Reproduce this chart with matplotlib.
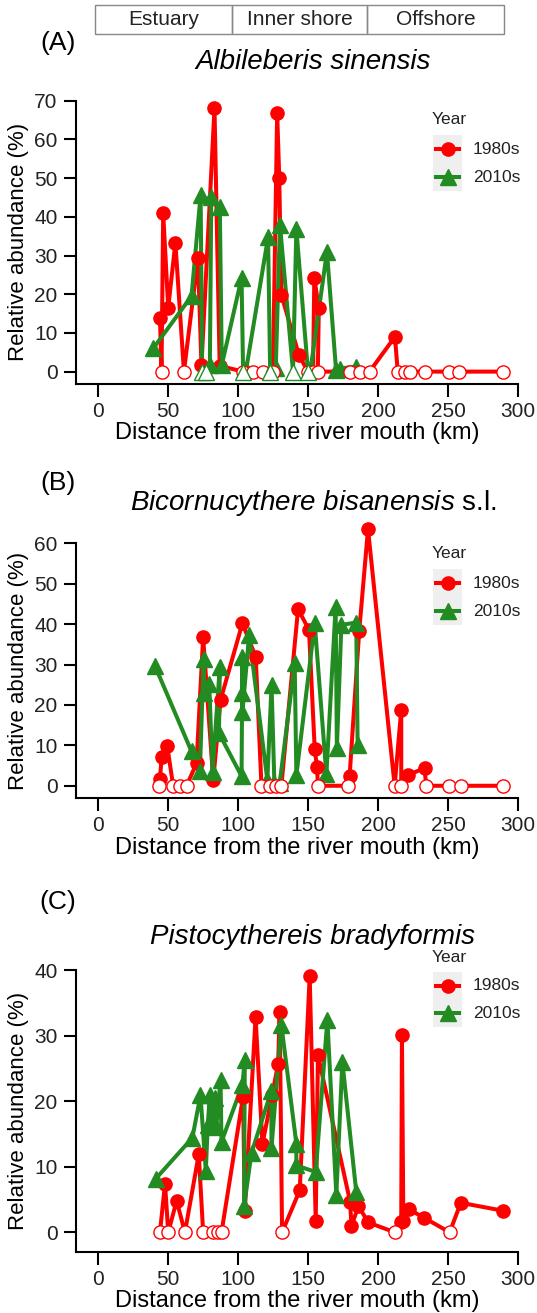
import matplotlib.pyplot as plt
from matplotlib.patches import Rectangle
from matplotlib.lines import Line2D

plt.rcParams['font.family'] = ['Liberation Sans', 'DejaVu Sans']
plt.rcParams['mathtext.fontset'] = 'custom'
plt.rcParams['mathtext.rm'] = 'Liberation Sans'
plt.rcParams['mathtext.it'] = 'Liberation Sans:italic'

RED = '#FF0000'
GREEN = '#228B22'
W, H = 537, 1313

# ---- data (distance km, relative abundance %) ----
zones = ['Estuary', 'Inner shore', 'Offshore']
xticks = [0, 50, 100, 150, 200, 250, 300]

a_red_d = [44.4, 45.5, 46.7, 50.3, 55.4, 61.5, 71.5, 74, 83.3, 87, 103.7, 110.8, 117.9, 125,
           128, 129.5, 131, 143.6, 150, 153.6, 154.5, 157.7, 157, 179.7, 186.8, 193.9, 212,
           214, 218.9, 222.4, 233.1, 250.9, 258, 288.9]
a_red_v = [13.8, 0, 40.9, 16.5, 33.3, 0, 29.3, 1.7, 68, 1.5, 0, 0, 0, 0,
           66.8, 50, 19.8, 4.2, 0, 0, 24.2, 16.4, 0, 0, 0, 0, 9,
           0, 0, 0, 0, 0, 0, 0]
a_grn_d = [39.6, 66.9, 73.4, 74.5, 77.5, 80, 81, 87.1, 88.5, 102.6, 103.7, 106, 121.5, 123,
           127, 130, 139.3, 141.7, 150, 152, 163.5, 170, 172.6, 184.4]
a_grn_v = [6, 19.5, 45.6, 0, 0, 1.7, 45.2, 42.5, 1.7, 24.2, 0, 0.8, 34.7, 0,
           1, 37.9, 0, 36.8, 0, 1, 31, 0.5, 0.8, 1.3]

b_red_d = [44, 44.4, 45.6, 49.6, 53.8, 58.6, 63.4, 70.5, 75.2, 82.4, 87.6, 103.2, 112.7, 116.8,
           122.7, 127.5, 131, 142.9, 150.7, 154.8, 156.4, 157.1, 178.5, 179.7, 186.5, 192.8,
           211.8, 216.5, 216.5, 221.2, 233.1, 234.3, 250.9, 259.3, 288.9]
b_red_v = [0, 1.6, 7.2, 9.8, 0, 0, 0, 5.6, 36.8, 1.4, 21.2, 40.2, 31.9, 0,
           0, 0, 0, 43.7, 38.6, 9, 4.7, 0, 0, 2.5, 38.2, 63.5,
           0, 18.8, 0, 2.6, 4.4, 0, 0, 0, 0]
b_grn_d = [40.8, 66.9, 72.9, 75.5, 76, 79.5, 81.9, 87.1, 86.5, 102.6, 103.2, 103.2, 103.2, 108,
           121, 124, 126, 129.8, 140.5, 141.7, 154.8, 163.1, 169.7, 170.6, 173.8, 184.4, 185.4]
b_grn_v = [29.7, 8.5, 3.7, 31.3, 23, 25.3, 3.5, 29.5, 13, 2.4, 31.9, 22.9, 18.2, 37.3,
           1.4, 24.9, 0.8, 0.6, 30.3, 2.6, 40.2, 2.8, 44.2, 9.3, 39.8, 40.4, 10]

c_red_d = [44.4, 48, 50.3, 56.3, 62.2, 72.1, 75.2, 82.3, 86, 88.3, 103.7, 104.9, 112.6, 117.5,
           124.4, 128.7, 129.8, 131.5, 144.1, 151.2, 155.5, 157.1, 180, 181, 186, 193, 212,
           216.5, 217, 218, 222, 233, 251, 259, 289]
c_red_v = [0, 7.4, 0, 4.8, 0, 11.9, 0, 0, 0, 0, 20.7, 3.2, 32.8, 13.5,
           20.9, 25.7, 33.6, 0, 6.4, 39.1, 1.8, 27, 4.7, 1, 4, 1.5, 0,
           1.5, 30.1, 1.8, 3.5, 2.2, 0, 4.5, 3.3]
c_grn_d = [41.5, 67.5, 73.3, 77.1, 78.5, 80, 81.9, 83.5, 84.5, 87.6, 88.3, 103.2, 104.9, 104.4,
           109.7, 123.9, 123.9, 131, 141.7, 141.7, 155.5, 163.8, 170.2, 174.5, 184.4]
c_grn_v = [8.2, 14.4, 20.9, 9.4, 16.4, 20.9, 16.4, 20.5, 16, 23.2, 13.8, 22.5, 26.3, 4,
           12.1, 21.6, 12.8, 31.6, 13.5, 10.2, 9.2, 32.4, 5.7, 26, 6.2]

fig = plt.figure(figsize=(W / 100, H / 100), dpi=100)


def fx(x):
    return x / W


def fy(y):
    return 1 - y / H


def series(ax, d, v, color, marker, ms):
    ax.plot(d, v, color=color, lw=2.9, zorder=2, clip_on=False)
    fd = [a for a, b in zip(d, v) if b > 0]
    fv = [b for b in v if b > 0]
    ax.plot(fd, fv, ls='none', marker=marker, ms=ms, color=color, mec=color,
            zorder=3, clip_on=False)
    zd = [a for a, b in zip(d, v) if b == 0]
    ax.plot(zd, [0] * len(zd), ls='none', marker=marker, ms=ms, mfc='white', mec=color,
            mew=1.0, zorder=4, clip_on=False)


def legend(ytitle, y1, y2):
    fig.text(fx(432), fy(ytitle), 'Year', fontsize=12.5, color='#222222', va='center')
    for yy, col, mk, lab in [(y1, RED, 'o', '1980s'), (y2, GREEN, '^', '2010s')]:
        fig.add_artist(Rectangle((fx(433), fy(yy + 14)), 29 / W, 28 / H,
                                 transform=fig.transFigure, color='#EFEFEF', lw=0))
        fig.add_artist(Line2D([fx(436), fx(459)], [fy(yy), fy(yy)], color=col, lw=2.9,
                              transform=fig.transFigure))
        fig.add_artist(Line2D([fx(447.5)], [fy(yy)], marker=mk, ms=9.5 if mk == 'o' else 11,
                              color=col, transform=fig.transFigure))
        fig.text(fx(473), fy(yy), lab, fontsize=12.5, color='#222222', va='center')


def panel(top, bottom, ymax, ymin, yticks, red_d, red_v, grn_d, grn_v):
    ax = fig.add_axes([fx(75.7), fy(bottom), (518.3 - 75.7) / W, (bottom - top) / H])
    series(ax, red_d, red_v, RED, 'o', 9.5)
    series(ax, grn_d, grn_v, GREEN, '^', 11)
    ax.set_xlim(-15.7, 300)
    ax.set_ylim(ymin, ymax)
    ax.set_xticks(xticks)
    ax.set_yticks(yticks)
    for s in ['top', 'right']:
        ax.spines[s].set_visible(False)
    for s in ['left', 'bottom']:
        ax.spines[s].set_linewidth(1.5)
    ax.tick_params(length=9, width=1.5, labelsize=15, labelcolor='#222222')
    ax.tick_params(axis='y', pad=4)
    ax.tick_params(axis='x', pad=4)
    ax.set_xlabel('Distance from the river mouth (km)', fontsize=17, labelpad=1)
    ax.set_ylabel('Relative abundance (%)', fontsize=16)
    ax.yaxis.set_label_coords((29 - 75.7) / (518.3 - 75.7), 0.5)
    return ax


# header
for x0, x1, lab in zip([95, 232, 367], [232, 367, 504], zones):
    fig.add_artist(Rectangle((fx(x0), fy(34)), (x1 - x0) / W, 29 / H, transform=fig.transFigure,
                             fill=False, ec='#888888', lw=1))
    fig.text(fx((x0 + x1) / 2), fy(19.5), lab, ha='center', va='center', fontsize=15,
             color='#222222')

# panel A
panel(100.7, 384, 70, -3.2, range(0, 71, 10), a_red_d, a_red_v, a_grn_d, a_grn_v)
fig.text(fx(58), fy(43), '(A)', ha='center', va='center', fontsize=19)
fig.text(fx(313), fy(62), 'Albileberis sinensis', ha='center', va='center', fontsize=20,
         style='italic')
legend(119, 149, 177)

# panel B
panel(543.3, 798.3, 60, -3.1, range(0, 61, 10), b_red_d, b_red_v, b_grn_d, b_grn_v)
fig.text(fx(58), fy(483), '(B)', ha='center', va='center', fontsize=19)
fig.text(fx(313), fy(503), r'$\mathit{Bicornucythere\ bisanensis}$ s.l.', ha='center',
         va='center', fontsize=20)
legend(553, 583, 611)

# panel C
panel(970, 1252, 40, -3, range(0, 41, 10), c_red_d, c_red_v, c_grn_d, c_grn_v)
fig.text(fx(58), fy(902), '(C)', ha='center', va='center', fontsize=19)
fig.text(fx(313), fy(937), 'Pistocythereis bradyformis', ha='center', va='center', fontsize=20,
         style='italic')
legend(958, 986, 1013)

fig.savefig('out.png', dpi=100)
